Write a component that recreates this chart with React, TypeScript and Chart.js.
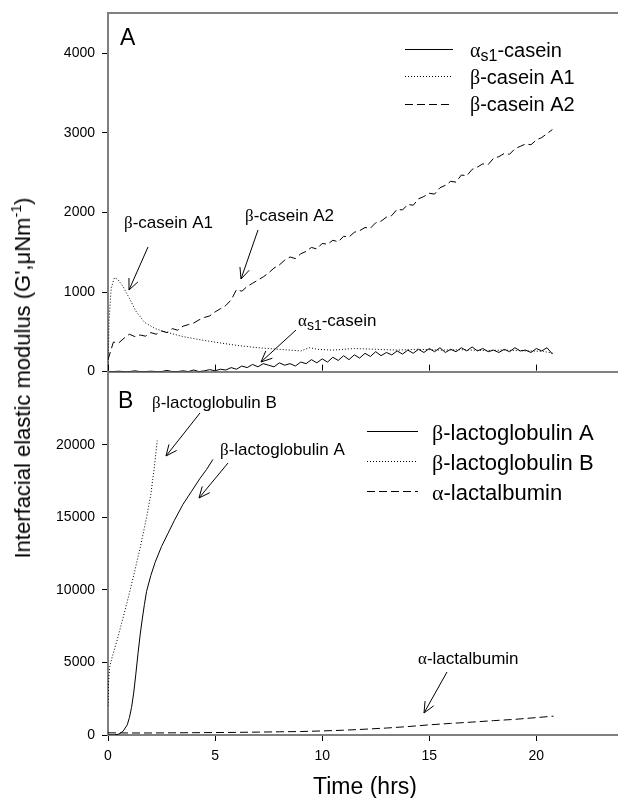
import React, { useEffect, useRef } from 'react';
import { Chart, registerables } from 'chart.js';

Chart.register(...registerables);

const SANS = '"Liberation Sans", Arial, sans-serif';
const SERIF = '"Liberation Serif", "Times New Roman", serif';
const AXIS_GRAY = '#808080';

const X_TICKS = [0, 5, 10, 15, 20];
const A_Y_TICKS = [0, 1000, 2000, 3000, 4000];
const B_Y_TICKS = [0, 5000, 10000, 15000, 20000];

// ---------- Panel A (caseins) ----------
const TIME_Q = [
  0, 0.25, 0.5, 0.75, 1, 1.25, 1.5, 1.75,
  2, 2.25, 2.5, 2.75, 3, 3.25, 3.5, 3.75,
  4, 4.25, 4.5, 4.75, 5, 5.25, 5.5, 5.75,
  6, 6.25, 6.5, 6.75, 7, 7.25, 7.5, 7.75,
  8, 8.25, 8.5, 8.75, 9, 9.25, 9.5, 9.75,
  10, 10.25, 10.5, 10.75, 11, 11.25, 11.5, 11.75,
  12, 12.25, 12.5, 12.75, 13, 13.25, 13.5, 13.75,
  14, 14.25, 14.5, 14.75, 15, 15.25, 15.5, 15.75,
  16, 16.25, 16.5, 16.75, 17, 17.25, 17.5, 17.75,
  18, 18.25, 18.5, 18.75, 19, 19.25, 19.5, 19.75,
  20, 20.25, 20.5, 20.75,
];

const BETA_CASEIN_A2 = [
  150, 370, 360, 420, 470, 440, 460, 445,
  490, 470, 510, 490, 540, 520, 570, 590,
  610, 650, 680, 700, 750, 790, 830, 900,
  1030, 1010, 1070, 1110, 1150, 1190, 1240, 1300,
  1340, 1400, 1440, 1420, 1480, 1510, 1560, 1540,
  1610, 1600, 1650, 1630, 1700, 1690, 1750, 1770,
  1810, 1800, 1870, 1890, 1940, 1960, 2040, 2030,
  2100, 2090, 2170, 2200, 2240, 2230, 2310, 2340,
  2390, 2380, 2470, 2460, 2540, 2570, 2610, 2600,
  2680, 2700, 2740, 2730, 2800, 2830, 2860, 2850,
  2910, 2940, 2990, 3040,
];

const ALPHA_S1_CASEIN = [
  0, 0, 5, 0, 0, 10, 0, 0,
  5, 0, 0, 15, 0, 0, 10, 0,
  20, 0, 10, 25, 10, 30, 20, 50,
  30, 70, 50, 90, 60, 100, 80, 60,
  110, 80, 100, 70, 120, 100, 150, 110,
  160, 120, 180, 140, 200, 150, 210, 170,
  230, 190, 250, 200, 240, 210, 260, 220,
  270, 230, 280, 240, 290, 250, 300, 240,
  280, 250, 300, 260, 310, 260, 290, 250,
  270, 240, 280, 250, 300, 260, 270, 240,
  290, 260, 300, 220,
];

const BETA_A1_TIME = [
  0, 0.05, 0.15, 0.3, 0.45, 0.7, 1.0, 1.3, 1.7, 2.2,
  2.8, 3.5, 4.3, 5.0, 6.0, 7.0, 8.0, 9.0, 9.4, 9.8,
  10.5, 11.5, 12.5, 13.5, 14.5, 15.5, 16.5, 17.5, 18.5, 19.5,
  20.3, 20.8,
];
const BETA_CASEIN_A1 = [
  0, 650, 1050, 1180, 1160, 1070, 920, 760, 620, 540,
  490, 440, 400, 370, 330, 300, 280, 260, 300, 280,
  270, 290, 280, 270, 280, 270, 275, 265, 270, 260,
  255, 230,
];

// ---------- Panel B (whey proteins) ----------
const BLG_A_TIME = [
  0, 0.3, 0.5, 0.7, 0.9, 1.0, 1.1, 1.2, 1.3, 1.4,
  1.5, 1.6, 1.7, 1.8, 2.0, 2.2, 2.5, 2.8, 3.1, 3.5,
  3.9, 4.3, 4.6, 4.9,
];
const BETA_LG_A = [
  0, 0, 60, 250, 700, 1200, 1900, 2900, 4200, 5600,
  6900, 8000, 9000, 9900, 11000, 11900, 13000, 13900, 14800, 15900,
  16800, 17700, 18300, 19000,
];

const BLG_B_TIME = [0, 0.03, 0.08, 0.2, 0.4, 0.6, 0.9, 1.2, 1.5, 1.8, 2.0, 2.15, 2.3];
const BETA_LG_B = [2000, 3800, 4700, 5400, 6400, 7500, 9200, 11000, 12900, 15000, 16600, 18300, 20300];

const ALAC_TIME = [0, 1, 2, 3, 4, 5, 6, 7, 8, 9, 10, 11, 12, 13, 14, 15, 16, 17, 18, 19, 20, 20.8];
const ALPHA_LAC = [150, 140, 140, 150, 160, 170, 180, 200, 220, 240, 280, 330, 400, 480, 580, 700, 800, 890, 990, 1080, 1200, 1300];

// ---------- helpers ----------
const pts = (xs: number[], ys: number[]) => xs.map((x, i) => ({ x, y: ys[i] }));

const DOT = [1, 2];
const DASH = [8, 4];

function ds(label: string, data: any[], dash: number[]) {
  return {
    label,
    data,
    borderColor: '#000',
    backgroundColor: '#000',
    borderWidth: 1,
    borderDash: dash,
    pointRadius: 0,
    pointBorderWidth: 0,
    tension: 0,
    fill: false,
  };
}

type Seg = { t: string; f: string; dy?: number };
const sans = (s: number) => `${s}px ${SANS}`;
const serif = (s: number) => `${s}px ${SERIF}`;
const greek = (g: string, rest: string, s: number): Seg[] => [
  { t: g, f: serif(s) },
  { t: rest, f: sans(s) },
];
const alphaS1 = (s: number): Seg[] => [
  { t: 'α', f: serif(s) },
  { t: 's1', f: sans(Math.round(s * 0.8)), dy: s * 0.22 },
  { t: '-casein', f: sans(s) },
];

function drawRich(ctx: CanvasRenderingContext2D, x: number, y: number, segs: Seg[]) {
  let cx = x;
  ctx.fillStyle = '#000';
  ctx.textBaseline = 'alphabetic';
  ctx.textAlign = 'left';
  for (const s of segs) {
    ctx.font = s.f;
    ctx.fillText(s.t, cx, y + (s.dy || 0));
    cx += ctx.measureText(s.t).width;
  }
}

function arrow(ctx: CanvasRenderingContext2D, x1: number, y1: number, x2: number, y2: number) {
  const ang = Math.atan2(y2 - y1, x2 - x1);
  const L = 12;
  const a = 0.42;
  ctx.beginPath();
  ctx.moveTo(x1, y1);
  ctx.lineTo(x2, y2);
  ctx.moveTo(x2 - L * Math.cos(ang - a), y2 - L * Math.sin(ang - a));
  ctx.lineTo(x2, y2);
  ctx.lineTo(x2 - L * Math.cos(ang + a), y2 - L * Math.sin(ang + a));
  ctx.stroke();
}

type LegendRow = { lineY: number; baseY: number; dash: number[]; segs: Seg[] };
type Note = { x: number; y: number; segs: Seg[]; from: [number, number]; to: [number, number] };

// Decorations drawn in page coordinates (offsetY = canvas top on the page)
function decor(opts: {
  id: string;
  offsetY: number;
  letter: string;
  letterPos: [number, number];
  legendX: [number, number, number];
  legend: LegendRow[];
  notes: Note[];
  topBorder: boolean;
  innerTicks: boolean;
}) {
  return {
    id: opts.id,
    afterDraw(chart: any) {
      const ctx: CanvasRenderingContext2D = chart.ctx;
      const { left, right, top, bottom } = chart.chartArea;
      ctx.save();
      if (opts.topBorder) {
        ctx.strokeStyle = AXIS_GRAY;
        ctx.lineWidth = 2;
        ctx.beginPath();
        ctx.moveTo(left - 1, Math.round(top));
        ctx.lineTo(right, Math.round(top));
        ctx.stroke();
      }
      if (opts.innerTicks) {
        const xs = chart.scales.x;
        ctx.strokeStyle = '#000';
        ctx.lineWidth = 1;
        ctx.beginPath();
        for (const v of X_TICKS) {
          const px = Math.round(xs.getPixelForValue(v)) + 0.5;
          ctx.moveTo(px, bottom - 1);
          ctx.lineTo(px, bottom - 7);
        }
        ctx.stroke();
      }
      ctx.translate(0, -opts.offsetY);
      ctx.fillStyle = '#000';
      ctx.font = sans(23);
      ctx.textBaseline = 'alphabetic';
      ctx.fillText(opts.letter, opts.letterPos[0], opts.letterPos[1]);
      const [lx1, lx2, tx] = opts.legendX;
      for (const r of opts.legend) {
        ctx.strokeStyle = '#000';
        ctx.lineWidth = 1;
        ctx.setLineDash(r.dash);
        ctx.beginPath();
        ctx.moveTo(lx1, r.lineY + 0.5);
        ctx.lineTo(lx2, r.lineY + 0.5);
        ctx.stroke();
        ctx.setLineDash([]);
        drawRich(ctx, tx, r.baseY, r.segs);
      }
      for (const n of opts.notes) {
        drawRich(ctx, n.x, n.y, n.segs);
        ctx.strokeStyle = '#000';
        ctx.lineWidth = 1;
        arrow(ctx, n.from[0], n.from[1], n.to[0], n.to[1]);
      }
      ctx.restore();
    },
  };
}

const tickFont = { family: SANS, size: 14 };

function yScale(max: number, ticks: number[]) {
  return {
    type: 'linear',
    min: 0,
    max,
    afterBuildTicks: (s: any) => {
      s.ticks = ticks.map((v) => ({ value: v }));
    },
    afterFit: (s: any) => {
      s.width = 108;
    },
    ticks: { font: tickFont, color: '#000', padding: 7, callback: (v: any) => String(v) },
    grid: { drawOnChartArea: false, drawTicks: true, tickLength: 6, color: '#000', lineWidth: 1 },
    border: { display: true, color: AXIS_GRAY, width: 2 },
  };
}

const CANVAS_A_TOP = -2;
const CANVAS_A_H = 389;
const CANVAS_B_TOP = 357;
const CANVAS_B_H = 441;

function configA(): any {
  return {
    type: 'line',
    data: {
      datasets: [
        ds('αs1-casein', pts(TIME_Q, ALPHA_S1_CASEIN), []),
        ds('β-casein A1', pts(BETA_A1_TIME, BETA_CASEIN_A1), DOT),
        ds('β-casein A2', pts(TIME_Q, BETA_CASEIN_A2), DASH),
      ],
    },
    options: {
      responsive: false,
      animation: false,
      events: [],
      layout: { padding: 0 },
      plugins: { legend: { display: false }, tooltip: { enabled: false } },
      scales: {
        x: {
          type: 'linear',
          min: 0,
          max: 24,
          afterFit: (s: any) => {
            s.height = 8;
          },
          ticks: { display: false },
          grid: { display: true, drawOnChartArea: false, drawTicks: false },
          border: { display: true, color: AXIS_GRAY, width: 2 },
        },
        y: yScale(4500, A_Y_TICKS),
      },
    },
    plugins: [
      decor({
        id: 'decorA',
        offsetY: CANVAS_A_TOP,
        letter: 'A',
        letterPos: [120, 45],
        legendX: [405, 453, 470],
        legend: [
          { lineY: 49, baseY: 57, dash: [], segs: alphaS1(20) },
          { lineY: 76, baseY: 84, dash: DOT, segs: greek('β', '-casein A1', 20) },
          { lineY: 104, baseY: 111, dash: DASH, segs: greek('β', '-casein A2', 20) },
        ],
        notes: [
          { x: 124, y: 228, segs: greek('β', '-casein A1', 17), from: [148, 247], to: [129, 290] },
          { x: 245, y: 221, segs: greek('β', '-casein A2', 17), from: [258, 230], to: [241, 279] },
          { x: 298, y: 326, segs: alphaS1(17), from: [296, 330], to: [261, 362] },
        ],
        topBorder: true,
        innerTicks: true,
      }),
    ],
  };
}

function configB(): any {
  return {
    type: 'line',
    data: {
      datasets: [
        ds('β-lactoglobulin A', pts(BLG_A_TIME, BETA_LG_A), []),
        ds('β-lactoglobulin B', pts(BLG_B_TIME, BETA_LG_B), DOT),
        ds('α-lactalbumin', pts(ALAC_TIME, ALPHA_LAC), DASH),
      ],
    },
    options: {
      responsive: false,
      animation: false,
      events: [],
      layout: { padding: 0 },
      plugins: { legend: { display: false }, tooltip: { enabled: false } },
      scales: {
        x: {
          type: 'linear',
          min: 0,
          max: 24,
          afterBuildTicks: (s: any) => {
            s.ticks = X_TICKS.map((v) => ({ value: v }));
          },
          afterFit: (s: any) => {
            s.height = 63;
          },
          ticks: { font: tickFont, color: '#000', padding: 7, maxRotation: 0, callback: (v: any) => String(v) },
          grid: { drawOnChartArea: false, drawTicks: true, tickLength: 6, color: '#000', lineWidth: 1 },
          border: { display: true, color: AXIS_GRAY, width: 2 },
          title: {
            display: true,
            text: 'Time (hrs)',
            color: '#000',
            font: { family: SANS, size: 23 },
            padding: { top: 0, bottom: -3 },
          },
        },
        y: yScale(25000, B_Y_TICKS),
      },
    },
    plugins: [
      decor({
        id: 'decorB',
        offsetY: CANVAS_B_TOP,
        letter: 'B',
        letterPos: [118, 408],
        legendX: [367, 418, 432],
        legend: [
          { lineY: 431, baseY: 440, dash: [], segs: greek('β', '-lactoglobulin A', 22) },
          { lineY: 461, baseY: 470, dash: DOT, segs: greek('β', '-lactoglobulin B', 22) },
          { lineY: 491, baseY: 500, dash: DASH, segs: greek('α', '-lactalbumin', 22) },
        ],
        notes: [
          { x: 152, y: 408, segs: greek('β', '-lactoglobulin B', 17), from: [200, 413], to: [166, 456] },
          { x: 220, y: 455, segs: greek('β', '-lactoglobulin A', 17), from: [228, 463], to: [199, 498] },
          { x: 418, y: 664, segs: greek('α', '-lactalbumin', 17), from: [447, 672], to: [424, 713] },
        ],
        topBorder: false,
        innerTicks: false,
      }),
    ],
  };
}

export default function App() {
  const refA = useRef<HTMLCanvasElement>(null);
  const refB = useRef<HTMLCanvasElement>(null);

  useEffect(() => {
    const a = new Chart(refA.current as HTMLCanvasElement, configA());
    const b = new Chart(refB.current as HTMLCanvasElement, configB());
    return () => {
      a.destroy();
      b.destroy();
    };
  }, []);

  return (
    <div
      style={{
        position: 'absolute',
        left: 0,
        top: 0,
        width: 618,
        height: 798,
        overflow: 'hidden',
        background: '#fff',
        fontFamily: SANS,
      }}
    >
      <canvas
        ref={refA}
        width={622}
        height={CANVAS_A_H}
        style={{ position: 'absolute', left: 0, top: CANVAS_A_TOP }}
      />
      <canvas
        ref={refB}
        width={622}
        height={CANVAS_B_H}
        style={{ position: 'absolute', left: 0, top: CANVAS_B_TOP }}
      />
      <div
        style={{
          position: 'absolute',
          left: 23,
          top: 378,
          transform: 'translate(-50%, -50%) rotate(-90deg)',
          whiteSpace: 'nowrap',
          fontSize: 22,
          lineHeight: 1,
          color: '#000',
        }}
      >
        Interfacial elastic modulus (G',μNm
        <sup style={{ fontSize: '0.65em', verticalAlign: 'top', position: 'relative', top: -3 }}>-1</sup>)
      </div>
    </div>
  );
}
